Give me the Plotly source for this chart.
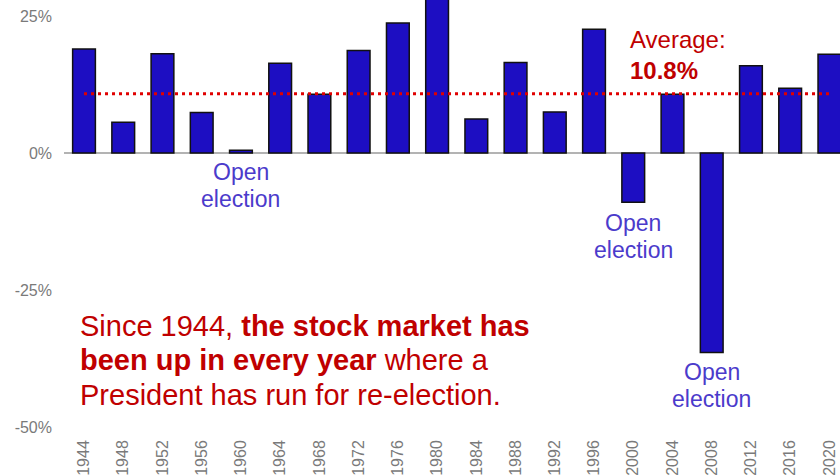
import plotly.graph_objects as go

# Election years and S&P 500 returns (%) in each presidential election year
years = ["1944", "1948", "1952", "1956", "1960", "1964", "1968", "1972", "1976", "1980",
         "1984", "1988", "1992", "1996", "2000", "2004", "2008", "2012", "2016", "2020"]
returns = [19.0, 5.6, 18.1, 7.4, 0.5, 16.4, 10.7, 18.7, 23.7, 32.4,
           6.2, 16.5, 7.5, 22.6, -9.0, 10.7, -36.4, 15.9, 11.8, 18.0]
average = 10.8

# Years with no incumbent on the ballot, and where their labels sit (value axis, %)
open_years = ["1960", "2000", "2008"]
open_label_y = [-6.0, -15.2, -42.5]

y_ticks = [25, 0, -25, -50]
y_tick_text = ["25%", "0%", "-25%", "-50%"]

BLUE = "#1d0ec2"
RED = "#c00000"
LABEL_BLUE = "#4b3bcb"
GRAY = "#7a7a7a"
FONT = "Liberation Sans, Arial, sans-serif"

fig = go.Figure()

fig.add_trace(go.Bar(
    x=years, y=returns,
    marker=dict(color=BLUE, line=dict(color="#111111", width=1.5)),
    width=0.58,
    showlegend=False,
    hoverinfo="x+y",
))

fig.add_trace(go.Scatter(
    x=[years[0], years[-1]], y=[average, average],
    mode="lines",
    line=dict(color="#e00000", width=3, dash="3px,4px"),
    showlegend=False,
    hoverinfo="skip",
))

annotations = []
for yr, ly in zip(open_years, open_label_y):
    # category axes place annotations by the category's serial index;
    # the two words are set as separate lines for tighter leading
    for word, shift in (("Open", 13.5), ("election", -13.5)):
        annotations.append(dict(
            x=years.index(yr), y=ly, xref="x", yref="y", yshift=shift,
            text=word, showarrow=False,
            xanchor="center", yanchor="middle", align="center",
            font=dict(family=FONT, size=23, color=LABEL_BLUE),
        ))

annotations.append(dict(
    x=0.727, y=average + 7.1, xref="paper", yref="y",
    text=f"Average:<br><b>{average}%</b>", showarrow=False,
    xanchor="left", yanchor="middle", align="left",
    font=dict(family=FONT, size=24, color=RED),
))

message_lines = [
    "Since 1944, <b>the stock market has</b>",
    "<b>been up in every year</b> where a",
    "President has run for re-election.",
]
message_y = [0.242, 0.163, 0.081]
for line, ly in zip(message_lines, message_y):
    annotations.append(dict(
        x=0.018, y=ly, xref="paper", yref="paper",
        text=line, showarrow=False,
        xanchor="left", yanchor="middle", align="left",
        font=dict(family=FONT, size=29, color=RED),
    ))

fig.update_layout(
    width=840, height=476,
    margin=dict(l=64, r=0, t=0, b=46),
    paper_bgcolor="white", plot_bgcolor="white",
    font=dict(family=FONT),
    annotations=annotations,
    bargap=0.42,
)

fig.update_xaxes(
    type="category",
    range=[-0.51, 19.27],
    tickangle=-90,
    tickfont=dict(family=FONT, size=16, color=GRAY),
    showgrid=False, showline=False, ticks="",
    ticklabelstandoff=6,
    automargin=False,
)

fig.update_yaxes(
    range=[-50.55, 27.92],
    tickvals=y_ticks, ticktext=y_tick_text,
    tickfont=dict(family=FONT, size=16, color=GRAY),
    showgrid=False, showline=False, ticks="",
    zeroline=True, zerolinecolor="#b3b3b3", zerolinewidth=1.5,
    ticklabelstandoff=11,
    automargin=False,
)

fig.write_html("out.html")
